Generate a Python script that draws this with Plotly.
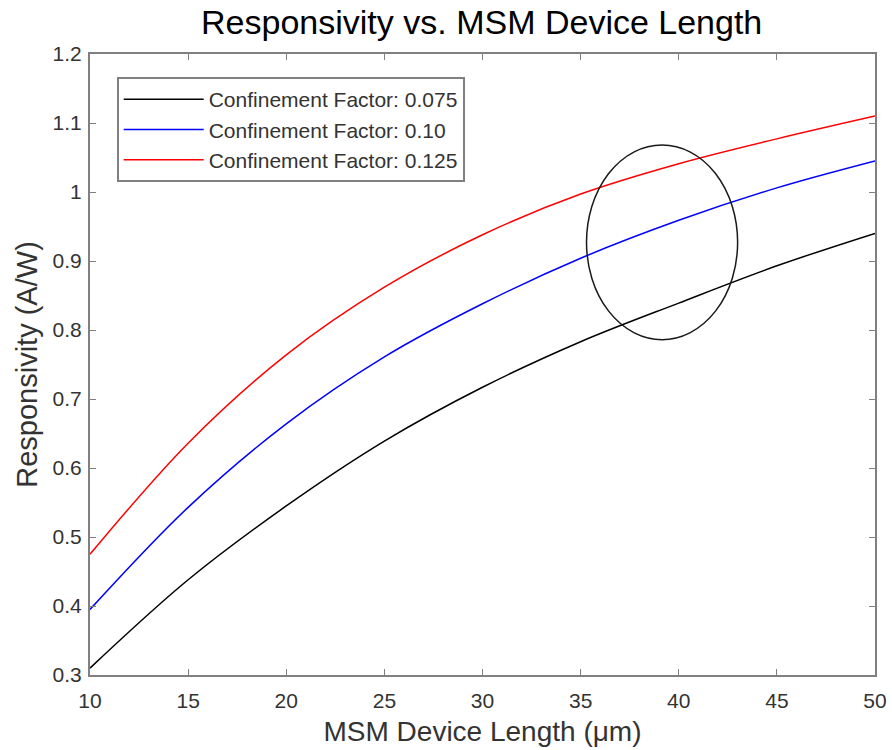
import plotly.graph_objects as go

length_um = [10, 15, 20, 25, 30, 35, 40, 45, 50]
resp_075 = [0.310, 0.438, 0.545, 0.639, 0.717, 0.783, 0.839, 0.893, 0.940]
resp_100 = [0.395, 0.543, 0.664, 0.761, 0.838, 0.904, 0.959, 1.006, 1.045]
resp_125 = [0.475, 0.636, 0.764, 0.862, 0.938, 0.997, 1.041, 1.077, 1.110]
names = ["Confinement Factor: 0.075", "Confinement Factor: 0.10", "Confinement Factor: 0.125"]
colors = ["#000000", "#0000ff", "#ff0000"]
ellipse_x = [35.3, 43.0]
ellipse_y = [0.786, 1.068]

fig = go.Figure()
for ys, nm, c in zip([resp_075, resp_100, resp_125], names, colors):
    fig.add_trace(go.Scatter(x=length_um, y=ys, mode="lines", name=nm,
                             line=dict(color=c, width=1.5, shape="spline")))

fig.add_shape(type="circle", xref="x", yref="y",
              x0=ellipse_x[0], x1=ellipse_x[1], y0=ellipse_y[0], y1=ellipse_y[1],
              line=dict(color="#1a1a1a", width=1.5))

font_family = "Liberation Sans, Arial, sans-serif"
axis_common = dict(showline=True, linecolor="#808080", linewidth=2, mirror="ticks",
                   ticks="inside", ticklen=6, tickcolor="#808080", tickwidth=1,
                   showgrid=False, zeroline=False, automargin=False,
                   tickfont=dict(size=21, color="#333333", family=font_family))

fig.update_layout(
    width=892, height=750,
    margin=dict(l=90, r=17, t=54, b=75),
    plot_bgcolor="white", paper_bgcolor="white",
    title=dict(text="Responsivity vs. MSM Device Length", x=0.54, xanchor="center",
               y=0.97, yanchor="middle",
               font=dict(size=34, color="#000000", family=font_family)),
    xaxis=dict(range=[10, 50], tickvals=[10, 15, 20, 25, 30, 35, 40, 45, 50],
               ticklabelstandoff=6,
               title=dict(text="MSM Device Length (μm)", standoff=10,
                          font=dict(size=28, color="#333333", family=font_family)),
               **axis_common),
    yaxis=dict(range=[0.3, 1.2], tickvals=[0.3, 0.4, 0.5, 0.6, 0.7, 0.8, 0.9, 1.0, 1.1, 1.2],
               ticktext=["0.3", "0.4", "0.5", "0.6", "0.7", "0.8", "0.9", "1", "1.1", "1.2"],
               ticklabelstandoff=2,
               title=dict(text="Responsivity (A/W)", standoff=6,
                          font=dict(size=29, color="#333333", family=font_family)),
               **axis_common),
    legend=dict(x=0.034, y=0.963, xanchor="left", yanchor="top",
                bgcolor="white", bordercolor="#808080", borderwidth=2,
                font=dict(size=21, color="#333333", family=font_family),
                tracegroupgap=0, itemwidth=80),
    showlegend=True,
)

fig.write_html("out.html")
